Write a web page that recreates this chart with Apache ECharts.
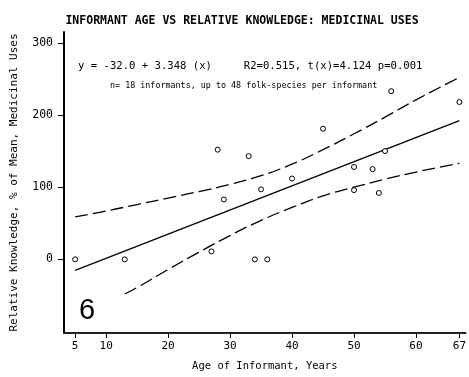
<!DOCTYPE html>
<html>
<head>
<meta charset="utf-8">
<script src="https://cdn.jsdelivr.net/npm/echarts@6/dist/echarts.min.js"></script>
<style>
  html, body { margin: 0; padding: 0; background: #fff; }
  #chart { width: 469px; height: 377px; }
</style>
</head>
<body>
<div id="chart"></div>
<script>
// Informant ages (years) and relative knowledge (% of mean, medicinal uses)
var ages      = [5, 13, 27, 28, 29, 33, 34, 35, 36, 40, 45, 50, 50, 53, 54, 55, 56, 67];
var knowledge = [0, 0, 11, 152, 83, 143, 0, 97, 0, 112, 181, 128, 96, 125, 92, 150, 233, 218];

// Fitted line: y = -32.0 + 3.348 x, drawn over the observed age range
var fitIntercept = -32.0;
var fitSlope = 3.348;
var fitRange = [5, 67];

// Confidence band (dashed curves)
var upperAges = [5, 10, 15, 20, 25, 30, 35, 40, 45, 50, 55, 60, 67];
var upperVals = [59, 67, 76, 85, 94, 104, 116, 132, 152, 174, 197, 221, 252];
var lowerAges = [13, 15, 20, 25, 30, 35, 40, 45, 50, 55, 60, 67];
var lowerVals = [-48, -39, -14, 10, 33, 54, 72, 88, 100, 111, 121, 133];

// Axis tick values
var xTicks = [5, 10, 20, 30, 40, 50, 60, 67];
var yTicks = [0, 100, 200, 300];

var mono = 'DejaVu Sans Mono';

function pairs(xs, ys) {
  return xs.map(function (x, i) { return [x, ys[i]]; });
}

var fitLine = fitRange.map(function (x) { return [x, fitIntercept + fitSlope * x]; });

var chart = echarts.init(document.getElementById('chart'), null, { renderer: 'canvas' });

chart.setOption({
  animation: false,
  backgroundColor: '#fff',
  grid: { left: 64, top: 32, right: 0, bottom: 35 },
  xAxis: {
    type: 'value',
    min: 3.2,
    max: 68.0,
    name: 'Age of Informant, Years',
    nameLocation: 'middle',
    nameGap: 28,
    nameTextStyle: { fontFamily: mono, fontSize: 10.5, color: '#000' },
    axisLine: { show: true, onZero: false, lineStyle: { color: '#222', width: 2 } },
    axisTick: { show: true, length: 5, customValues: xTicks, lineStyle: { color: '#000', width: 1 } },
    axisLabel: { customValues: xTicks, fontFamily: mono, fontSize: 11, color: '#000', margin: 8 },
    splitLine: { show: false }
  },
  yAxis: {
    type: 'value',
    min: -102,
    max: 315,
    name: 'Relative Knowledge, % of Mean, Medicinal Uses',
    nameLocation: 'middle',
    nameGap: 44,
    nameTextStyle: { fontFamily: mono, fontSize: 11, color: '#000' },
    axisLine: { show: true, onZero: false, lineStyle: { color: '#000', width: 2 } },
    axisTick: { show: true, length: 6, customValues: yTicks, lineStyle: { color: '#000', width: 1 } },
    axisLabel: { customValues: yTicks, fontFamily: mono, fontSize: 11.5, color: '#000', margin: 11 },
    splitLine: { show: false }
  },
  title: {
    text: 'INFORMANT AGE VS RELATIVE KNOWLEDGE: MEDICINAL USES',
    left: 237,
    top: 10,
    textAlign: 'center',
    textStyle: { fontFamily: mono, fontSize: 11.5, fontWeight: 'bold', color: '#000' }
  },
  graphic: [
    {
      type: 'text', left: 78, top: 61,
      style: {
        text: 'y = -32.0 + 3.348 (x)     R2=0.515, t(x)=4.124 p=0.001',
        font: '10.6px "DejaVu Sans Mono"', fill: '#000'
      }
    },
    {
      type: 'text', left: 110, top: 82,
      style: {
        text: 'n= 18 informants, up to 48 folk-species per informant',
        font: '8.4px "DejaVu Sans Mono"', fill: '#000'
      }
    },
    {
      type: 'text', left: 79, top: 296,
      style: { text: '6', font: '29px "Liberation Sans"', fill: '#000' }
    }
  ],
  series: [
    {
      type: 'line',
      data: fitLine,
      showSymbol: false,
      lineStyle: { color: '#000', width: 1.3 },
      z: 2
    },
    {
      type: 'line',
      data: pairs(upperAges, upperVals),
      smooth: true,
      showSymbol: false,
      lineStyle: { color: '#000', width: 1.3, type: [13, 5] },
      z: 2
    },
    {
      type: 'line',
      data: pairs(lowerAges, lowerVals),
      smooth: true,
      showSymbol: false,
      lineStyle: { color: '#000', width: 1.3, type: [13, 5] },
      z: 2
    },
    {
      type: 'scatter',
      data: pairs(ages, knowledge),
      symbol: 'circle',
      symbolSize: 5,
      itemStyle: { color: '#fff', borderColor: '#000', borderWidth: 1, opacity: 1 },
      z: 3
    }
  ]
});
</script>
</body>
</html>
